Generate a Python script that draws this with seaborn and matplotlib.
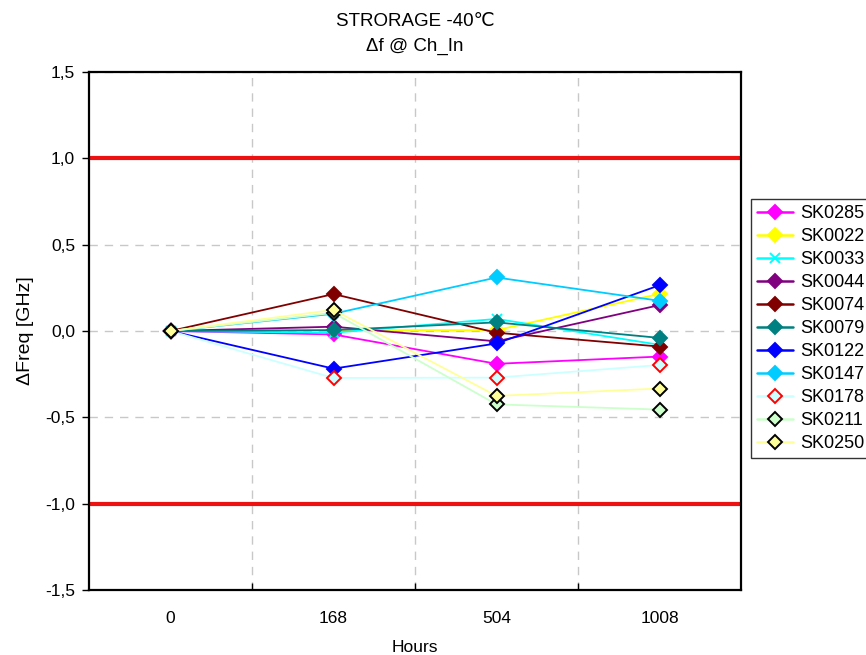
import numpy as np
import pandas as pd
import seaborn as sns
import matplotlib.pyplot as plt
from matplotlib.ticker import FixedLocator, FuncFormatter

# --- データ ---
hours = ["0", "168", "504", "1008"]
samples = ["SK0285", "SK0022", "SK0033", "SK0044", "SK0074", "SK0079",
           "SK0122", "SK0147", "SK0178", "SK0211", "SK0250"]

SK0285 = [0.0, -0.02, -0.19, -0.148]
SK0022 = [0.0, 0.005, 0.005, 0.215]
SK0033 = [0.0, -0.01, 0.07, -0.08]
SK0044 = [0.0, 0.025, -0.06, 0.15]
SK0074 = [0.0, 0.214, -0.01, -0.09]
SK0079 = [0.0, 0.005, 0.05, -0.04]
SK0122 = [0.0, -0.218, -0.072, 0.265]
SK0147 = [0.0, 0.10, 0.31, 0.175]
SK0178 = [0.0, -0.272, -0.27, -0.197]
SK0211 = [0.0, 0.105, -0.425, -0.455]
SK0250 = [0.0, 0.122, -0.376, -0.333]

values = [SK0285, SK0022, SK0033, SK0044, SK0074, SK0079,
          SK0122, SK0147, SK0178, SK0211, SK0250]

limit_hi = 1.0
limit_lo = -1.0

# 色とマーカー（線色, マーカー, 塗り, 縁）
styles = {
    "SK0285": ("#FF00FF", "D", "#FF00FF", "#FF00FF"),
    "SK0022": ("#FFFF00", "D", "#FFFF00", "#FFFF00"),
    "SK0033": ("#00FFFF", "x", "#00FFFF", "#00FFFF"),
    "SK0044": ("#800080", "D", "#800080", "#800080"),
    "SK0074": ("#800000", "D", "#800000", "#800000"),
    "SK0079": ("#008080", "D", "#008080", "#008080"),
    "SK0122": ("#0000FF", "D", "#0000FF", "#0000FF"),
    "SK0147": ("#00CCFF", "D", "#00CCFF", "#00CCFF"),
    "SK0178": ("#CCFFFF", "D", "#CCFFFF", "#FF0000"),
    "SK0211": ("#CCFFCC", "D", "#CCFFCC", "#000000"),
    "SK0250": ("#FFFF99", "D", "#FFFF99", "#000000"),
}

rows = []
for name, vals in zip(samples, values):
    for i, v in enumerate(vals):
        rows.append({"sample": name, "pos": i, "dfreq": v})
df = pd.DataFrame(rows)

sns.set_style("white")
plt.rcParams['font.family'] = ['Liberation Sans', 'DejaVu Sans']
plt.rcParams['text.color'] = 'black'
plt.rcParams['axes.labelcolor'] = 'black'
plt.rcParams['xtick.color'] = 'black'
plt.rcParams['ytick.color'] = 'black'

fig = plt.figure(figsize=(8.66, 6.55), dpi=100)
ax = fig.add_axes([0.1028, 0.0992, 0.7529, 0.7909])

for name in samples:
    lc, mk, fc, ec = styles[name]
    sub = df[df["sample"] == name]
    sns.lineplot(data=sub, x="pos", y="dfreq", ax=ax, color=lc,
                 marker=mk, markersize=7.5 if mk == "D" else 7,
                 markerfacecolor=fc, markeredgecolor=ec,
                 markeredgewidth=1.4, linewidth=1.3, label=name,
                 zorder=3)

# 規格線
ax.axhline(limit_hi, color="#EE1111", linewidth=3, zorder=2)
ax.axhline(limit_lo, color="#EE1111", linewidth=3, zorder=2)

ax.set_xlim(-0.5, 3.5)
ax.set_ylim(-1.5, 1.5)

# x軸：ラベルは中央、目盛り線は区切り位置
ax.xaxis.set_major_locator(FixedLocator([0.5, 1.5, 2.5]))
ax.xaxis.set_minor_locator(FixedLocator(range(len(hours))))
ax.set_xticklabels([])
ax.set_xticklabels(hours, minor=True)
ax.tick_params(axis="x", which="major", direction="in", length=5,
               width=1, color="black", bottom=True)
ax.tick_params(axis="x", which="minor", length=0, labelsize=12.5, pad=15)

ax.yaxis.set_major_locator(FixedLocator(np.arange(-1.5, 1.51, 0.5)))
ax.yaxis.set_major_formatter(FuncFormatter(lambda v, p: f"{v:.1f}".replace(".", ",")))
ax.tick_params(axis="y", direction="out", length=5, width=1,
               color="black", left=True, labelsize=12.5, pad=5)

ax.grid(True, which="major", color="#C8C8C8", linestyle=(0, (6, 5)), linewidth=1)
for sp in ax.spines.values():
    sp.set_color("black")
    sp.set_linewidth(1.6)

ax.set_xlabel("Hours", fontsize=12.5, labelpad=10)
ax.set_ylabel("ΔFreq [GHz]", fontsize=14, labelpad=8)
ax.set_title("STRORAGE -40℃\nΔf @ Ch_In", fontsize=13.5, pad=15,
             linespacing=1.6)

leg = ax.legend(loc="upper left", bbox_to_anchor=(0.867, 0.696),
                bbox_transform=fig.transFigure, frameon=True, fancybox=False,
                edgecolor="black", fontsize=13, handlelength=2.0,
                handletextpad=0.4, labelspacing=0.33, borderpad=0.35,
                borderaxespad=0)
leg.get_frame().set_linewidth(1.0)
for line in leg.get_lines():
    line.set_linewidth(1.8)

fig.savefig("out.png", dpi=100)
